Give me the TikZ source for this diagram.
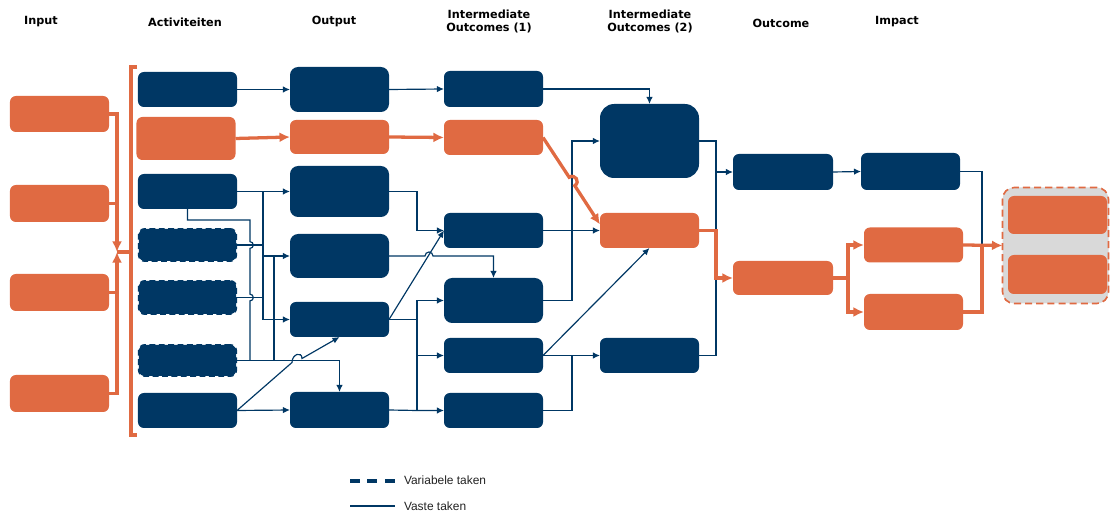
\documentclass[tikz,border=0pt]{standalone}
\usepackage{fontspec}
\setmainfont{Liberation Sans}
\newfontfamily\headfont{DejaVu Sans}
\usepackage{tikz}
\usetikzlibrary{arrows.meta,positioning,calc}

\definecolor{navy}{HTML}{003764}
\definecolor{rust}{HTML}{E06A42}
\definecolor{groupgray}{HTML}{D9D9D9}
\definecolor{legendtext}{HTML}{222222}

\begin{document}
\begin{tikzpicture}[
        x=0.03cm, y=-0.03cm,
        >=Latex,
        every node/.style={inner sep=0pt, outer sep=0pt},
        navybox/.style={
            fill=navy,
            rounded corners=5pt,
            minimum width=2.97cm
        },
        rustbox/.style={navybox, fill=rust},
        varbox/.style={
            navybox,
            minimum width=2.92cm,
            draw=navy,
            line width=1.6pt,
            dash pattern=on 5pt off 3pt
        },
        hgt/.style={minimum height=#1*0.03cm},
        head/.style={font=\headfont\bfseries\fontsize{9.6}{10.8}\selectfont, align=center},
        legend/.style={font=\fontsize{10.2}{12}\selectfont, text=legendtext},
        wire/.style={navy, line width=1pt},
        arrow/.style={wire, -{Latex[length=6pt,width=5.5pt]}},
        owire/.style={rust, line width=2.8pt},
        oarrow/.style={owire, -{Latex[length=9pt,width=8.5pt]}}
    ]

    \useasboundingbox (0,0) rectangle (1110,514);

    % column heads
    \node[head] (hInput) at (41,22) {Input};
    \node[head] (hAct) at (185,22) {Activiteiten};
    \node[head] (hOut) at (334,22) {Output};
    \node[head] (hIO1) at (489,21.5) {Intermediate\\Outcomes (1)};
    \node[head] (hIO2) at (650,21.5) {Intermediate\\Outcomes (2)};
    \node[head] (hOc) at (781,23) {Outcome};
    \node[head] (hImp) at (897,22) {Impact};

    % input
    \node[rustbox, hgt=36] (in1) at (59.5,114) {};
    \node[rustbox, hgt=37] (in2) at (59.5,203.5) {};
    \node[rustbox, hgt=37] (in3) at (59.5,292.5) {};
    \node[rustbox, hgt=37] (in4) at (59.5,393.5) {};

    % activiteiten
    \node[navybox, hgt=35] (act1) at (187.5,89.5) {};
    \node[rustbox, hgt=43] (act2) at (186,138.5) {};
    \node[navybox, hgt=35] (act3) at (187.5,191.5) {};
    \node[varbox, hgt=32] (act4) at (187.5,245) {};
    \node[varbox, hgt=33] (act5) at (187.5,297.5) {};
    \node[varbox, hgt=31] (act6) at (187.5,360.5) {};
    \node[navybox, hgt=35] (act7) at (187.5,410.5) {};

    % output
    \node[navybox, hgt=45, rounded corners=7pt] (out1) at (339.5,89.5) {};
    \node[rustbox, hgt=34] (out2) at (339.5,137) {};
    \node[navybox, hgt=51, rounded corners=7pt] (out3) at (339.5,191.5) {};
    \node[navybox, hgt=44, rounded corners=7pt] (out4) at (339.5,256) {};
    \node[navybox, hgt=35] (out5) at (339.5,319.5) {};
    \node[navybox, hgt=36] (out6) at (339.5,410) {};

    % intermediate outcomes (1)
    \node[navybox, hgt=36] (ioA) at (493.5,89) {};
    \node[rustbox, hgt=35] (ioB) at (493.5,137.5) {};
    \node[navybox, hgt=35] (ioC) at (493.5,230.5) {};
    \node[navybox, hgt=45, rounded corners=7pt] (ioD) at (493.5,300.5) {};
    \node[navybox, hgt=35] (ioE) at (493.5,355.5) {};
    \node[navybox, hgt=35] (ioF) at (493.5,410.5) {};

    % intermediate outcomes (2)
    \node[navybox, hgt=74, rounded corners=12pt] (iiA) at (649.5,141) {};
    \node[rustbox, hgt=35] (iiB) at (649.5,230.5) {};
    \node[navybox, hgt=35] (iiC) at (649.5,355.5) {};

    % outcome
    \node[navybox, hgt=36, minimum width=3cm] (oc1) at (783,172) {};
    \node[rustbox, hgt=34, minimum width=3cm] (oc2) at (783,278) {};

    % impact
    \node[navybox, hgt=37] (imp1) at (910.5,171.5) {};
    \node[rustbox, hgt=35] (imp2) at (913.5,245) {};
    \node[rustbox, hgt=36] (imp3) at (913.5,312) {};

    % end goal
    \node[fill=groupgray, draw=rust, line width=1.4pt, dash pattern=on 6pt off 3.5pt,
          rounded corners=10pt, minimum width=106*0.03cm, minimum height=116*0.03cm]
          (goal) at (1055.5,245.5) {};
    \node[rustbox, hgt=38] (goal1) at (1057.5,215) {};
    \node[rustbox, hgt=39] (goal2) at (1057.5,274.5) {};

    % junctions and buses
    \coordinate (jn) at (117,252);
    \coordinate (bar) at (131,252);
    \coordinate (busA) at (263,0);
    \coordinate (busB) at (250,0);
    \coordinate (busC) at (274,0);
    \coordinate (busD) at (417,0);
    \coordinate (busE) at (572,0);
    \coordinate (busF) at (716,0);
    \coordinate (busG) at (848,0);
    \coordinate (busH) at (982,0);

    % activiteiten -> output
    \draw[arrow] (act1.east) -- (out1.west);
    \draw[arrow] (act3.east) -- (out3.west);
    \draw[arrow] (act3.east -| busA) |- (out5.west);
    \draw[arrow] (act3.east -| busA) |- (out4.west);
    \draw[wire] (act4.east) -- (act4.east -| busA);
    \draw[wire] (act5.east) -- (act5.east -| busA);
    \draw[wire] (act3.south) -- ++(0,11) -- (busB |- 0,220) -- (busB |- 0,241.7)
        arc[start angle=90, end angle=-90, radius=0.1cm] -- (busB |- 0,294.2)
        arc[start angle=90, end angle=-90, radius=0.1cm] -- (busB |- act6.east);
    \draw[wire] (act6.east) -- (busC |- act6.east) -- (busC |- out4.west);
    \draw[arrow] (act6.east) -| (out6.north);
    \draw[arrow] (act7.east) -- (292,362.5)
        .. controls (292,354) and (302,351) .. (302,358.5) -- (out5.south);
    \draw[arrow] (act7.east) -- (out6.west);

    % output -> intermediate outcomes (1)
    \draw[arrow] (out1.east) -- (ioA.west);
    \draw[arrow] (out3.east) -| (busD |- ioC.west) -- (ioC.west);
    \draw[arrow] (out4.east) -- (425,256)
        arc[start angle=180, end angle=0, radius=0.12cm] -- (ioD.north |- out4.east) -- (ioD.north);
    \draw[arrow] (out5.east) -- (ioC.west);
    \draw[wire] (out5.east) -- (busD |- out5.east);
    \draw[wire] (busD |- ioD.west) -- (busD |- ioF.west);
    \draw[arrow] (busD |- ioD.west) -- (ioD.west);
    \draw[arrow] (busD |- ioE.west) -- (ioE.west);
    \draw[arrow] (out6.east) -- (busD |- ioF.west) -- (ioF.west);

    % intermediate outcomes (1) -> (2)
    \draw[arrow] (ioA.east) -| (iiA.north);
    \draw[arrow] (ioC.east) -- (iiB.west);
    \draw[arrow] (ioD.east) -| (busE |- iiA.west) -- (iiA.west);
    \draw[arrow] (ioE.east) -- (iiB.south);
    \draw[arrow] (ioE.east) -- (iiC.west);
    \draw[wire] (ioF.east) -| (busE |- iiC.west);

    % intermediate outcomes (2) -> outcome
    \draw[arrow] (iiA.east) -| (busF |- oc1.west) -- (oc1.west);
    \draw[wire] (iiC.east) -| (busF |- oc1.west);

    % outcome -> impact -> goal
    \draw[arrow] (oc1.east) -- (imp1.west);
    \draw[wire] (imp1.east) -| (busH |- goal.west);

    % orange path
    \draw[oarrow] (in1.east) -| (jn);
    \draw[oarrow] (in4.east) -| (jn);
    \draw[owire] (in2.east) -- (in2.east -| jn);
    \draw[owire] (in3.east) -- (in3.east -| jn);
    \draw[owire] (jn) -- (bar);
    \draw[owire] ($(bar)+(6,-185)$) -- ($(bar)+(0,-185)$) -- ($(bar)+(0,183)$) -- ($(bar)+(6,183)$);
    \draw[oarrow] (act2.east) -- (out2.west);
    \draw[oarrow] (out2.east) -- (ioB.west);
    \draw[oarrow] (ioB.east) -- (569.2,177.3)
        .. controls +(5.8,-3.9) and +(5.8,-3.9) .. (574.8,185.7) -- ($(iiB.west)+(0,-6)$);
    \draw[oarrow] (iiB.east) -| (busF |- oc2.west) -- (oc2.west);
    \draw[owire] (oc2.east) -- (busG |- oc2.east);
    \draw[oarrow] (busG |- oc2.east) |- (imp2.west);
    \draw[oarrow] (busG |- oc2.east) |- (imp3.west);
    \draw[owire] (imp3.east) -| (busH |- goal.west);
    \draw[oarrow] (imp2.east) -- (goal.west);

    % legend
    \node[legend, anchor=west] (legVar) at (404,480) {Variabele taken};
    \node[legend, anchor=west] (legFix) at (404,506) {Vaste taken};
    \draw[navy, line width=2.6pt, dash pattern=on 8.5pt off 6.4pt]
        ($(legVar.west)+(-54,1)$) -- ($(legVar.west)+(-9,1)$);
    \draw[navy, line width=1.8pt] ($(legFix.west)+(-54,0)$) -- ($(legFix.west)+(-9,0)$);

\end{tikzpicture}
\end{document}
